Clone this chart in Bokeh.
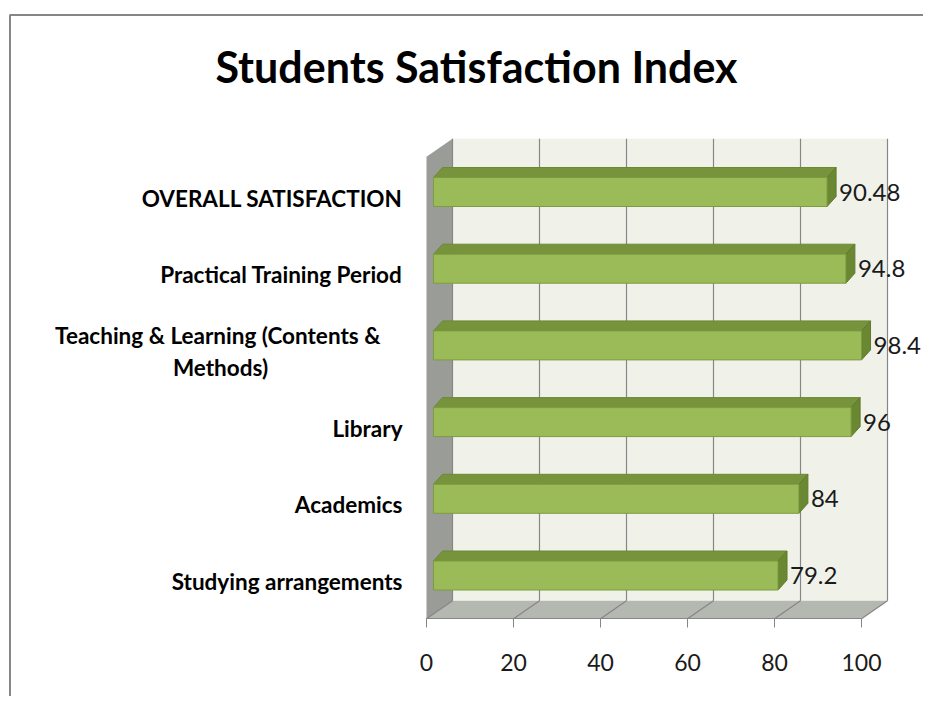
from bokeh.plotting import figure
from bokeh.models import Range1d, LinearAxis, FixedTicker
from bokeh.core.properties import value
from bokeh.embed import file_html
from bokeh.resources import INLINE

# ---------------- data ----------------
categories = [
    "Studying arrangements",
    "Academics",
    "Library",
    "Teaching & Learning  (Contents &\nMethods)",
    "Practical Training Period",
    "OVERALL SATISFACTION",
]
scores = [79.2, 84, 96, 98.4, 94.8, 90.48]
x_ticks = [0, 20, 40, 60, 80, 100]
title_text = "Students Satisfaction Index"

# ---------------- layout (page pixels -> data) ----------------
FIG_W, FIG_H = 923, 696
ORIG = 0.0                      # page px of the figure's top-left corner
X0_PAGE, SX = 426.0, 4.35      # page px of value 0, px per value unit
Y0_PAGE, SY = 575.0, 76.7      # page py of first category, px per category


def px2x(px):
    return (px - X0_PAGE) / SX


def py2y(py):
    return (Y0_PAGE - py) / SY


def dx(px):
    return px / SX


def dy(px):
    return px / SY


n = len(categories)
ys = list(range(n))
x_max = x_ticks[-1]

DEPTH_X, DEPTH_Y = dx(26), dy(18)          # wall depth
floor_front = -0.5 - dy(5)
floor_back = floor_front + DEPTH_Y
top_front = n - 0.5 - dy(3)
top_back = top_front + DEPTH_Y

BAR_X0 = dx(7)          # bar front plane offset
BAR_H = dy(29)
BDX, BDY = dx(9), dy(10)

p = figure(
    width=FIG_W, height=FIG_H,
    x_range=Range1d(px2x(ORIG), px2x(ORIG + FIG_W)),
    y_range=Range1d(py2y(ORIG + FIG_H), py2y(ORIG)),
    x_axis_location=None, y_axis_location=None,
    min_border=0, toolbar_location=None, output_backend="svg",
    outline_line_color=None, background_fill_color="white",
)
p.grid.visible = False

# chart border (top & left)
p.line(x=[px2x(9.5), px2x(9.5), px2x(ORIG + FIG_W)],
       y=[py2y(ORIG + FIG_H), py2y(14.5), py2y(14.5)],
       line_color="#868686", line_width=2)

# title
p.text(x=[px2x(476)], y=[py2y(66)], text=[title_text],
       text_font=value("Lato"), text_font_style="bold", text_font_size="43px",
       text_align="center", text_baseline="middle", text_color="#000000")

# back wall
p.quad(left=[DEPTH_X], right=[x_max + DEPTH_X], bottom=[floor_back], top=[top_back],
       fill_color="#f0f2ea", line_color=None)
# left wall
p.patch(x=[0, 0, DEPTH_X, DEPTH_X], y=[floor_front, top_front, top_back, floor_back],
        fill_color="#9a9c98", line_color=None)
# floor
p.patch(x=[0, x_max, x_max + DEPTH_X, DEPTH_X],
        y=[floor_front, floor_front, floor_back, floor_back],
        fill_color="#b5b7b1", line_color=None)

# gridlines on wall and floor
p.segment(x0=[t + DEPTH_X for t in x_ticks], y0=[floor_back] * len(x_ticks),
          x1=[t + DEPTH_X for t in x_ticks], y1=[top_back] * len(x_ticks),
          line_color="#868686", line_width=1.2)
p.segment(x0=x_ticks, y0=[floor_front] * len(x_ticks),
          x1=[t + DEPTH_X for t in x_ticks], y1=[floor_back] * len(x_ticks),
          line_color="#868686", line_width=1.2)

# bars: top faces & right faces
rights = [v + BAR_X0 for v in scores]
top_xs = [[BAR_X0, r, r + BDX, BAR_X0 + BDX] for r in rights]
top_ys = [[y + BAR_H / 2, y + BAR_H / 2, y + BAR_H / 2 + BDY, y + BAR_H / 2 + BDY] for y in ys]
side_xs = [[r, r, r + BDX, r + BDX] for r in rights]
side_ys = [[y - BAR_H / 2, y + BAR_H / 2, y + BAR_H / 2 + BDY, y - BAR_H / 2 + BDY] for y in ys]
p.patches(xs=top_xs, ys=top_ys, fill_color="#77933c", line_color="#6b8a34", line_width=1)
p.patches(xs=side_xs, ys=side_ys, fill_color="#6a8732", line_color="#5f7a2c", line_width=1)
# bar front faces
p.hbar(y=ys, left=BAR_X0, right=rights, height=BAR_H,
       fill_color="#9bbb59", line_color="#7d9c3f", line_width=1)

# value labels
p.text(x=[r + BDX + dx(3) for r in rights], y=ys, text=[f"{v:g}" for v in scores],
       text_font=value("Lato"), text_font_size="24px", text_align="left",
       text_baseline="middle", text_color="#1a1a1a")

# category labels
single = [(c, y) for c, y in zip(categories, ys) if "\n" not in c]
multi = [(c, y) for c, y in zip(categories, ys) if "\n" in c]
LAB_DY = dy(6)
p.text(x=[px2x(402)] * len(single), y=[y - LAB_DY for _, y in single],
       text=[c for c, _ in single],
       text_font=value("Lato"), text_font_style="bold", text_font_size="22.5px",
       text_align="right", text_baseline="middle", text_color="#000000")
p.text(x=[px2x(220)] * len(multi), y=[y - LAB_DY for _, y in multi],
       text=[c for c, _ in multi],
       text_font=value("Lato"), text_font_style="bold", text_font_size="22.5px",
       text_align="center", text_baseline="middle", text_color="#000000",
       text_line_height=1.18)

# x axis at the floor's front edge
xaxis = LinearAxis(fixed_location=floor_front, bounds=(0, x_max),
                   ticker=FixedTicker(ticks=x_ticks))
xaxis.axis_line_color = "#868686"
xaxis.axis_line_width = 1.2
xaxis.major_tick_line_color = "#868686"
xaxis.major_tick_out = 9
xaxis.major_tick_in = 0
xaxis.minor_tick_line_color = None
xaxis.major_label_text_font = "Lato"
xaxis.major_label_text_font_size = "23px"
xaxis.major_label_text_color = "#1a1a1a"
xaxis.major_label_standoff = 26
p.add_layout(xaxis, "below")

open("out.html", "w").write(file_html(p, INLINE))
